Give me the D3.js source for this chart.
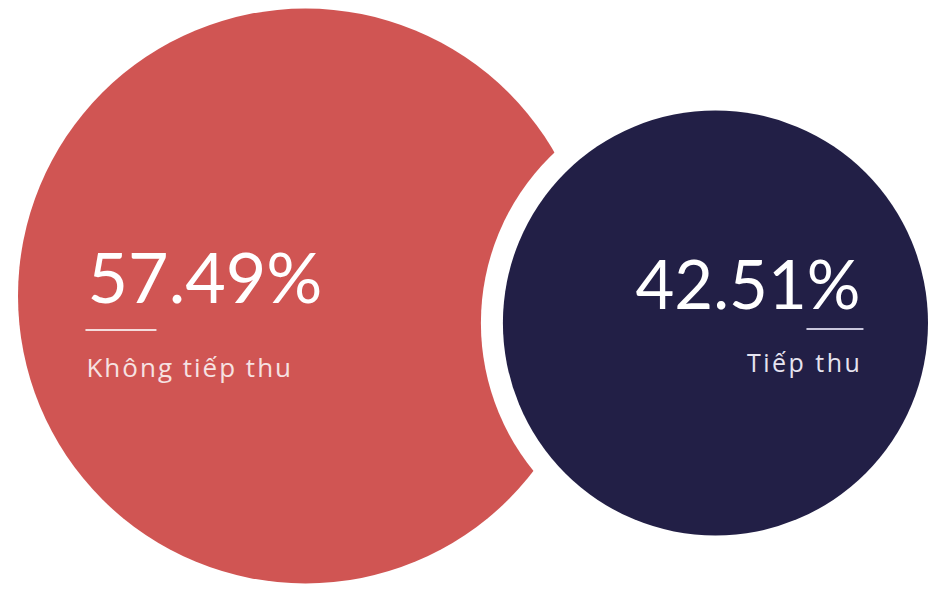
<!DOCTYPE html>
<html>
<head>
<meta charset="utf-8">
<script src="https://cdn.jsdelivr.net/npm/d3@7"></script>
<style>
  body { margin: 0; background: #fff; }
  svg { display: block; }
</style>
</head>
<body>
<div id="chart"></div>
<script>
var categories = ["Không tiếp thu", "Tiếp thu"];
var values = [57.49, 42.51];
var colors = ["#d05553", "#221f46"];

var width = 934, height = 591;

var svg = d3.select("#chart")
            .append("svg")
            .attr("width", width)
            .attr("height", height);

// radius grows with the share
var r = d3.scaleLinear().domain([0, 100]).range([0, 500]);

var data = categories.map(function(c, i) {
    return {name: c, value: values[i], color: colors[i], r: r(values[i])};
});

// layout: big bubble hugs the left, small one hugs the right
data[0].cx = 18 + data[0].r;
data[0].cy = 296;
data[1].cx = 928 - data[1].r;
data[1].cy = 323;

var gap = 22;

svg.append("circle")
    .attr("cx", data[0].cx)
    .attr("cy", data[0].cy)
    .attr("r", data[0].r)
    .attr("fill", data[0].color);

// white ring cut out of the big bubble
svg.append("circle")
    .attr("cx", data[1].cx)
    .attr("cy", data[1].cy)
    .attr("r", data[1].r + gap)
    .attr("fill", "#fff");

svg.append("circle")
    .attr("cx", data[1].cx)
    .attr("cy", data[1].cy)
    .attr("r", data[1].r)
    .attr("fill", data[1].color);

var fmt = function(v) { return d3.format(".2f")(v) + "%"; };

// left label
var g0 = svg.append("g").attr("transform", "translate(" + (data[0].cx - 218) + ",0)");
g0.append("text")
    .attr("x", 0).attr("y", 303)
    .attr("font-family", "Lato, sans-serif")
    .attr("font-size", "70px")
    .attr("fill", "#fff")
    .text(fmt(data[0].value));
g0.append("line")
    .attr("x1", -2).attr("x2", 69)
    .attr("y1", 330).attr("y2", 330)
    .attr("stroke", "#f4dcdc")
    .attr("stroke-width", 2);
g0.append("text")
    .attr("x", -1).attr("y", 377)
    .attr("font-family", "'Open Sans', sans-serif")
    .attr("font-size", "26px")
    .attr("letter-spacing", "2px")
    .attr("fill", "#f6e2e2")
    .text(data[0].name);

// right label
var g1 = svg.append("g").attr("transform", "translate(" + (data[1].cx + 145) + ",0)");
g1.append("text")
    .attr("x", 0).attr("y", 309)
    .attr("text-anchor", "end")
    .attr("font-family", "Lato, sans-serif")
    .attr("font-size", "67px")
    .attr("fill", "#fff")
    .text(fmt(data[1].value));
g1.append("line")
    .attr("x1", -54).attr("x2", 3)
    .attr("y1", 329).attr("y2", 329)
    .attr("stroke", "#c9c6dc")
    .attr("stroke-width", 2);
g1.append("text")
    .attr("x", 2).attr("y", 372)
    .attr("text-anchor", "end")
    .attr("font-family", "'Open Sans', sans-serif")
    .attr("font-size", "25px")
    .attr("letter-spacing", "2.5px")
    .attr("fill", "#e6e4f0")
    .text(data[1].name);
</script>
</body>
</html>
